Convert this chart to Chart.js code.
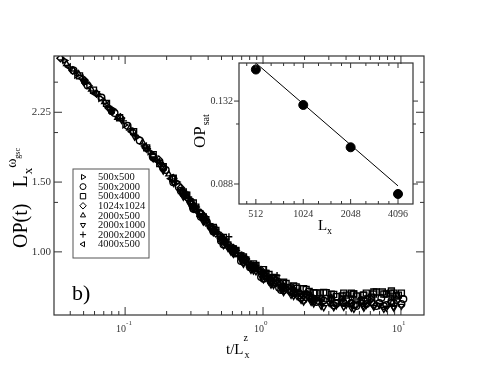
<!DOCTYPE html>
<html>
<head>
<meta charset="utf-8">
<script src="https://cdn.jsdelivr.net/npm/chart.js@4.4.1/dist/chart.umd.min.js"></script>
<style>
    html, body { margin: 0; padding: 0; background: #fff; }
    #wrap { position: relative; width: 491px; height: 382px; }
    canvas { position: absolute; left: 0; top: 0; }
</style>
</head>
<body>
<div id="wrap">
    <canvas id="mainChart" width="491" height="382"></canvas>
    <canvas id="insetChart" width="491" height="382"></canvas>
</div>
<script>
// --- Daten ---

const seriesLabels = ["500x500", "500x2000", "500x4000", "1024x1024", "2000x500", "2000x1000", "2000x2000", "4000x500"];

const s500x500X = [0.0364, 0.0444, 0.0543, 0.0663, 0.0811, 0.0991, 0.1212, 0.1508, 0.1874, 0.2369, 0.2995, 0.3786, 0.4785, 0.605, 0.778, 1.000, 1.285, 1.652, 2.234, 3.123,
    0.2754, 0.3256, 0.385, 0.455, 0.538, 0.636, 0.752, 0.889, 1.051, 1.243, 1.470, 1.738, 2.054, 2.641, 3.69, 5.16];
const s500x500Y = [3.04, 2.79, 2.63, 2.44, 2.29, 2.09, 1.95, 1.79, 1.63, 1.50, 1.331, 1.199, 1.104, 1.013, 0.934, 0.888, 0.834, 0.807, 0.765, 0.756,
    1.382, 1.297, 1.191, 1.126, 1.041, 1.009, 0.943, 0.913, 0.862, 0.855, 0.809, 0.779, 0.781, 0.752, 0.765, 0.747];

const s500x2000X = [0.0423, 0.0535, 0.0674, 0.0839, 0.1042, 0.1275, 0.1585, 0.1971, 0.245, 0.3097, 0.3915, 0.495, 0.626, 0.804, 1.017, 1.307, 1.680, 2.089, 2.513, 3.123, 3.816, 4.673, 5.706, 6.98, 8.53, 10.42,
    0.2533, 0.2995, 0.354, 0.4185, 0.495, 0.585, 0.692, 0.818, 0.967, 1.143, 1.352, 1.598, 1.889, 2.234, 2.43, 2.87, 3.40, 4.01, 4.37, 4.75, 5.16, 5.61, 6.10, 6.63, 7.21, 7.84, 8.53, 9.27, 10.08,
    0.1599, 0.1890, 0.2234, 0.2641, 0.3123, 0.3692, 0.4364, 0.5162, 0.610, 0.7216, 0.853, 1.008, 1.192, 1.410, 1.666, 1.970, 2.330, 2.754, 3.257, 3.848, 4.557, 5.381, 6.361, 7.519, 8.895];
const s500x2000Y = [2.87, 2.63, 2.45, 2.24, 2.08, 1.91, 1.74, 1.61, 1.457, 1.297, 1.190, 1.078, 0.991, 0.914, 0.869, 0.812, 0.791, 0.780, 0.753, 0.764, 0.747, 0.738, 0.760, 0.743, 0.752, 0.760,
    1.427, 1.339, 1.226, 1.157, 1.066, 1.018, 0.949, 0.916, 0.864, 0.840, 0.801, 0.792, 0.765, 0.765, 0.747, 0.762, 0.740, 0.760, 0.743, 0.730, 0.756, 0.739, 0.747, 0.730, 0.765, 0.734, 0.743, 0.756, 0.739,
    1.730, 1.630, 1.499, 1.401, 1.284, 1.219, 1.125, 1.044, 1.004, 0.943, 0.906, 0.856, 0.832, 0.800, 0.787, 0.757, 0.753, 0.754, 0.733, 0.743, 0.734, 0.752, 0.739, 0.730, 0.743];

const s500x4000X = [0.0467, 0.0590, 0.0733, 0.0912, 0.1153, 0.1434, 0.1782, 0.2215, 0.280, 0.3481, 0.440, 0.556, 0.692, 0.874, 1.105, 1.398, 1.767, 2.160, 2.597, 3.123, 3.752, 4.519, 5.34, 6.308, 7.332, 8.388, 9.585,
    0.2754, 0.3256, 0.385, 0.455, 0.538, 0.636, 0.752, 0.889, 1.051, 1.243, 1.470, 1.738, 2.054, 2.43, 2.87, 3.40, 4.01, 4.37, 4.75, 5.61, 6.10, 6.63, 7.84, 8.53, 9.27, 10.08,
    0.1599, 0.1890, 0.2234, 0.2641, 0.3123, 0.3692, 0.4364, 0.5162, 0.610, 0.7216, 0.853, 1.008, 1.192, 1.410, 1.666, 1.970, 2.330, 2.754, 3.257, 3.848, 4.557, 5.381, 6.361, 7.519, 8.895];
const s500x4000Y = [2.78, 2.56, 2.37, 2.18, 2.01, 1.83, 1.67, 1.53, 1.39, 1.249, 1.141, 1.041, 0.977, 0.922, 0.877, 0.835, 0.809, 0.795, 0.788, 0.782, 0.774, 0.783, 0.778, 0.783, 0.792, 0.787, 0.778,
    1.39, 1.297, 1.205, 1.133, 1.059, 1.009, 0.954, 0.924, 0.882, 0.860, 0.832, 0.816, 0.804, 0.787, 0.789, 0.771, 0.778, 0.787, 0.774, 0.787, 0.769, 0.792, 0.783, 0.797, 0.774, 0.787,
    1.760, 1.640, 1.534, 1.417, 1.329, 1.226, 1.152, 1.088, 1.016, 0.971, 0.933, 0.902, 0.862, 0.839, 0.820, 0.807, 0.789, 0.790, 0.781, 0.787, 0.783, 0.778, 0.792, 0.783, 0.787];

const s1024x1024X = [0.0340, 0.0416, 0.0508, 0.0620, 0.0758, 0.0927, 0.1133, 0.1410, 0.1753, 0.2215, 0.280, 0.354, 0.455, 0.585, 0.752, 0.967, 1.243, 1.598, 2.054, 2.641, 3.69, 5.16,
    0.2533, 0.2995, 0.354, 0.4185, 0.495, 0.585, 0.692, 0.818, 0.967, 1.143, 1.352, 1.598, 1.889, 2.234, 3.123, 4.37, 6.10, 8.53,
    0.1599, 0.1890, 0.2234, 0.2641, 0.3123, 0.3692, 0.4364, 0.5162, 0.610, 0.7216, 0.853, 1.008, 1.192, 1.410, 1.666, 1.970];
const s1024x1024Y = [3.08, 2.87, 2.71, 2.51, 2.31, 2.18, 2.01, 1.83, 1.71, 1.53, 1.37, 1.255, 1.113, 1.030, 0.960, 0.890, 0.845, 0.797, 0.786, 0.761, 0.756, 0.747,
    1.452, 1.331, 1.248, 1.150, 1.097, 1.018, 0.977, 0.927, 0.900, 0.850, 0.830, 0.815, 0.783, 0.761, 0.760, 0.743, 0.760, 0.747,
    1.75, 1.63, 1.534, 1.417, 1.306, 1.233, 1.132, 1.075, 1.022, 0.959, 0.922, 0.876, 0.857, 0.819, 0.801, 0.775];

const s2000x500X = [0.0376, 0.0460, 0.0570, 0.0709, 0.0882, 0.1078, 0.1341, 0.1667, 0.2071, 0.2576, 0.3203, 0.4047, 0.512, 0.647, 0.832, 1.069, 1.375, 1.828, 2.43,
    0.2754, 0.3256, 0.385, 0.455, 0.538, 0.636, 0.752, 0.889, 1.051, 1.243, 1.470, 1.738, 2.234, 3.123, 4.37];
const s2000x500Y = [2.98, 2.81, 2.57, 2.39, 2.18, 2.05, 1.89, 1.71, 1.57, 1.416, 1.30, 1.173, 1.084, 0.986, 0.923, 0.879, 0.818, 0.791, 0.760,
    1.398, 1.275, 1.212, 1.119, 1.065, 0.986, 0.960, 0.902, 0.877, 0.830, 0.813, 0.788, 0.770, 0.742, 0.747];

const s2000x1000X = [0.0402, 0.0500, 0.0620, 0.0771, 0.0943, 0.1172, 0.1434, 0.1782, 0.2253, 0.2848, 0.354, 0.440, 0.556, 0.704, 0.889, 1.105, 1.398, 1.767, 2.310, 3.018, 4.01, 5.34, 6.98, 8.82,
    0.2533, 0.2995, 0.354, 0.4185, 0.495, 0.585, 0.692, 0.818, 0.967, 1.143, 1.352, 1.598, 1.889, 2.234, 2.641, 3.40, 4.37, 5.61, 7.84, 10.08,
    0.1599, 0.1890, 0.2234, 0.2641, 0.3123, 0.3692, 0.4364, 0.5162, 0.610, 0.7216, 0.853, 1.008, 1.192, 1.410, 1.666, 1.970, 2.330, 2.754, 3.257, 3.848, 4.557, 5.381, 6.361, 7.519, 8.895];
const s2000x1000Y = [2.90, 2.68, 2.51, 2.29, 2.15, 1.95, 1.82, 1.66, 1.49, 1.354, 1.226, 1.128, 1.023, 0.955, 0.892, 0.842, 0.806, 0.772, 0.750, 0.743, 0.734, 0.730, 0.734, 0.726,
    1.419, 1.308, 1.234, 1.137, 1.072, 1.000, 0.954, 0.900, 0.869, 0.826, 0.806, 0.778, 0.756, 0.747, 0.730, 0.732, 0.722, 0.734, 0.722, 0.730,
    1.720, 1.602, 1.499, 1.376, 1.284, 1.191, 1.119, 1.038, 0.987, 0.932, 0.896, 0.851, 0.823, 0.791, 0.773, 0.748, 0.740, 0.724, 0.724, 0.726, 0.717, 0.722, 0.726, 0.717, 0.722];

const s2000x2000X = [0.0352, 0.0430, 0.0526, 0.0641, 0.0797, 0.0975, 0.1192, 0.1458, 0.1812, 0.2291, 0.2896, 0.366, 0.4627, 0.566, 0.716, 0.904, 1.143, 1.264, 1.598, 2.054,
    0.2754, 0.3256, 0.385, 0.455, 0.538, 0.636, 0.752, 0.889, 1.051, 1.470, 1.738, 2.234, 3.123];
const s2000x2000Y = [3.05, 2.86, 2.68, 2.47, 2.29, 2.14, 1.96, 1.82, 1.68, 1.51, 1.376, 1.23, 1.125, 1.092, 0.979, 0.914, 0.860, 0.872, 0.811, 0.790,
    1.39, 1.305, 1.205, 1.139, 1.065, 1.021, 0.954, 0.924, 0.898, 0.828, 0.797, 0.778, 0.769];

const s4000x500X = [0.0389, 0.0483, 0.0600, 0.0746, 0.0897, 0.1115, 0.1387, 0.1724, 0.2142, 0.2708, 0.3367, 0.4256, 0.538, 0.6805, 0.874, 1.124, 1.446, 1.889,
    0.2533, 0.2995, 0.354, 0.4185, 0.495, 0.585, 0.692, 0.818, 0.967, 1.143, 1.352, 1.598, 2.234, 3.69];
const s4000x500Y = [2.93, 2.74, 2.51, 2.36, 2.19, 2.01, 1.85, 1.69, 1.53, 1.40, 1.258, 1.149, 1.047, 0.982, 0.906, 0.858, 0.810, 0.779,
    1.427, 1.331, 1.226, 1.157, 1.078, 1.012, 0.971, 0.916, 0.885, 0.840, 0.816, 0.787, 0.756, 0.743];

// gefuellte Punkte ohne Legende
const filledX = [0.0508, 0.0797];
const filledY = [2.69, 2.26];

// Inset
const insetL = [512, 1024, 2048, 4096];
const insetOP = [0.154, 0.1295, 0.1053, 0.0838];
const fitL = [512, 4096];
const fitOP = [0.159, 0.0872];

// Achsen
const mainXTicks = [0.1, 1, 10];
const mainXExp = ["-1", "0", "1"];
const mainYTicks = [1.00, 1.50, 2.25];
const mainYMinor = [1.333, 2.0, 2.68];
const insetXTicks = [512, 1024, 2048, 4096];
const insetYTicks = [0.088, 0.132];
const insetYMinor = [0.118];

// --- Hilfsfunktionen ---

const SERIF = "'Liberation Serif', 'DejaVu Serif', serif";

function toPoints(xs, ys) {
    return xs.map((x, i) => ({ x: x, y: ys[i] }));
}

function seg(ctx, x1, y1, x2, y2) {
    ctx.beginPath();
    ctx.moveTo(x1, y1);
    ctx.lineTo(x2, y2);
    ctx.stroke();
}

const markerStyles = [
    { pointStyle: "triangle", rotation: 90 },
    { pointStyle: "circle", rotation: 0 },
    { pointStyle: "rect", rotation: 0 },
    { pointStyle: "rectRot", rotation: 0 },
    { pointStyle: "triangle", rotation: 0 },
    { pointStyle: "triangle", rotation: 180 },
    { pointStyle: "cross", rotation: 0 },
    { pointStyle: "triangle", rotation: 270 }
];

const seriesX = [s500x500X, s500x2000X, s500x4000X, s1024x1024X, s2000x500X, s2000x1000X, s2000x2000X, s4000x500X];
const seriesY = [s500x500Y, s500x2000Y, s500x4000Y, s1024x1024Y, s2000x500Y, s2000x1000Y, s2000x2000Y, s4000x500Y];

function markerRadius(style) {
    if (style === "rect") return 4.2;
    if (style === "rectRot") return 3.6;
    if (style === "cross") return 3.4;
    return 3.3;
}

const datasets = seriesLabels.map((label, i) => ({
    label: label,
    data: toPoints(seriesX[i], seriesY[i]),
    pointStyle: markerStyles[i].pointStyle,
    rotation: markerStyles[i].rotation,
    radius: markerRadius(markerStyles[i].pointStyle),
    borderColor: "#000",
    backgroundColor: "rgba(0,0,0,0)",
    borderWidth: 1.4
}));

datasets.push({
    label: "filled",
    data: toPoints(filledX, filledY),
    pointStyle: "circle",
    radius: 3.3,
    borderColor: "#000",
    backgroundColor: "#000",
    borderWidth: 1
});

// --- Rahmen, Ticks, Beschriftungen Hauptplot ---

const mainDecor = {
    id: "mainDecor",
    afterDraw(chart) {
        const { ctx, chartArea: a, scales } = chart;
        const x = scales.x, y = scales.y;
        ctx.save();
        ctx.strokeStyle = "#333";
        ctx.lineWidth = 1.2;
        ctx.strokeRect(a.left, a.top, a.right - a.left, a.bottom - a.top);
        ctx.lineWidth = 1;

        // x-Ticks (log)
        for (let d = -2; d <= 1; d++) {
            for (let k = 1; k <= 9; k++) {
                const v = k * Math.pow(10, d);
                if (v < x.min || v > x.max) continue;
                const p = x.getPixelForValue(v);
                const len = k === 1 ? 8 : 4;
                seg(ctx, p, a.bottom, p, a.bottom - len);
                seg(ctx, p, a.top, p, a.top + len);
            }
        }
        // y-Ticks
        mainYTicks.forEach(v => {
            const p = y.getPixelForValue(v);
            seg(ctx, a.left, p, a.left + 8, p);
            seg(ctx, a.right, p, a.right - 8, p);
        });
        mainYMinor.forEach(v => {
            const p = y.getPixelForValue(v);
            seg(ctx, a.left, p, a.left + 4, p);
            seg(ctx, a.right, p, a.right - 4, p);
        });

        // y-Tickbeschriftung
        ctx.fillStyle = "#333";
        ctx.font = "11px " + SERIF;
        ctx.textAlign = "right";
        ctx.textBaseline = "middle";
        mainYTicks.forEach(v => {
            ctx.fillText(v.toFixed(2), a.left - 3, y.getPixelForValue(v));
        });

        // x-Tickbeschriftung 10^n
        ctx.textBaseline = "alphabetic";
        mainXTicks.forEach((v, i) => {
            const p = x.getPixelForValue(v);
            ctx.font = "10px " + SERIF;
            ctx.textAlign = "right";
            ctx.fillText("10", p + 1, 332);
            ctx.font = "7px " + SERIF;
            ctx.textAlign = "left";
            ctx.fillText(mainXExp[i], p + 1, 325);
        });

        // x-Achsentitel t/L_x^z
        ctx.fillStyle = "#000";
        ctx.textAlign = "left";
        ctx.font = "15px " + SERIF;
        ctx.fillText("t/L", 226, 354);
        const wT = ctx.measureText("t/L").width;
        ctx.font = "10px " + SERIF;
        ctx.fillText("x", 226 + wT + 1, 358);
        ctx.fillText("z", 226 + wT, 341);

        // y-Achsentitel OP(t) L_x^(omega_gsc)
        ctx.save();
        ctx.translate(27, 248);
        ctx.rotate(-Math.PI / 2);
        ctx.font = "20px " + SERIF;
        ctx.fillText("OP(t)", 0, 0);
        let u = ctx.measureText("OP(t)").width + 16;
        ctx.fillText("L", u, 0);
        u += ctx.measureText("L").width;
        ctx.font = "13px " + SERIF;
        ctx.fillText("x", u + 1, 5);
        u += 1 + ctx.measureText("x").width;
        ctx.font = "14px " + SERIF;
        ctx.fillText("\u03c9", u, -11);
        u += ctx.measureText("\u03c9").width;
        ctx.font = "8px " + SERIF;
        ctx.fillText("gsc", u, -7);
        ctx.restore();

        // b)
        ctx.font = "22px " + SERIF;
        ctx.fillText("b)", 72, 300);

        // Legende
        const lx = 73, ly = 169, lw = 76, lh = 89;
        ctx.fillStyle = "#fff";
        ctx.fillRect(lx, ly, lw, lh);
        ctx.strokeStyle = "#555";
        ctx.lineWidth = 1;
        ctx.strokeRect(lx, ly, lw, lh);
        ctx.font = "10.5px " + SERIF;
        ctx.textBaseline = "middle";
        seriesLabels.forEach((label, i) => {
            const ry = 177 + i * 9.6;
            ctx.strokeStyle = "#000";
            ctx.fillStyle = "rgba(0,0,0,0)";
            const st = markerStyles[i];
            Chart.helpers.drawPoint(ctx, {
                pointStyle: st.pointStyle,
                rotation: st.rotation,
                radius: markerRadius(st.pointStyle) * 0.9,
                borderWidth: 1
            }, 83, ry);
            ctx.fillStyle = "#111";
            ctx.fillText(label, 98, ry + 0.5);
        });
        ctx.restore();
    }
};

new Chart(document.getElementById("mainChart"), {
    type: "scatter",
    data: { datasets: datasets },
    options: {
        responsive: false,
        animation: false,
        layout: { padding: { left: 0, top: 56, right: 67, bottom: 27 } },
        plugins: { legend: { display: false }, tooltip: { enabled: false } },
        scales: {
            x: {
                type: "logarithmic",
                min: 0.0305,
                max: 14.7,
                grid: { display: false, drawTicks: false },
                border: { display: false },
                ticks: { display: false },
                afterFit: s => { s.height = 40; }
            },
            y: {
                type: "logarithmic",
                min: 0.693,
                max: 3.12,
                grid: { display: false, drawTicks: false },
                border: { display: false },
                afterBuildTicks: s => { s.ticks = mainYTicks.map(v => ({ value: v })); },
                ticks: { display: false },
                afterFit: s => { s.width = 54; }
            }
        }
    },
    plugins: [mainDecor]
});

// --- Inset ---

const insetDecor = {
    id: "insetDecor",
    afterDraw(chart) {
        const { ctx, chartArea: a, scales } = chart;
        const x = scales.x, y = scales.y;
        ctx.save();
        ctx.strokeStyle = "#333";
        ctx.lineWidth = 1.2;
        ctx.strokeRect(a.left, a.top, a.right - a.left, a.bottom - a.top);
        ctx.lineWidth = 1;

        insetXTicks.forEach(v => {
            const p = x.getPixelForValue(v);
            seg(ctx, p, a.bottom, p, a.bottom - 5);
            seg(ctx, p, a.top, p, a.top + 5);
            for (let k = 1; k <= 3; k++) {
                const m = v * (1 + k / 4);
                if (m > x.max) continue;
                const q = x.getPixelForValue(m);
                seg(ctx, q, a.bottom, q, a.bottom - 3);
                seg(ctx, q, a.top, q, a.top + 3);
            }
        });
        const m0 = x.getPixelForValue(448);
        seg(ctx, m0, a.bottom, m0, a.bottom - 3);
        seg(ctx, m0, a.top, m0, a.top + 3);

        insetYTicks.forEach(v => {
            const p = y.getPixelForValue(v);
            seg(ctx, a.left - 5, p, a.left, p);
            seg(ctx, a.right, p, a.right + 5, p);
        });
        insetYMinor.forEach(v => {
            const p = y.getPixelForValue(v);
            seg(ctx, a.left - 3, p, a.left, p);
            seg(ctx, a.right, p, a.right + 3, p);
        });

        ctx.fillStyle = "#000";
        ctx.textAlign = "left";
        ctx.textBaseline = "alphabetic";
        ctx.font = "15px " + SERIF;
        ctx.fillText("L", 318, 230);
        ctx.font = "10px " + SERIF;
        ctx.fillText("x", 327, 234);

        ctx.save();
        ctx.translate(205, 148);
        ctx.rotate(-Math.PI / 2);
        ctx.font = "17px " + SERIF;
        ctx.fillText("OP", 0, 0);
        const wOP = ctx.measureText("OP").width;
        ctx.font = "10px " + SERIF;
        ctx.fillText("sat", wOP + 1, 4);
        ctx.restore();
        ctx.restore();
    }
};

new Chart(document.getElementById("insetChart"), {
    type: "scatter",
    data: {
        datasets: [
            {
                label: "fit",
                data: toPoints(fitL, fitOP),
                showLine: true,
                borderColor: "#000",
                borderWidth: 1,
                pointRadius: 0
            },
            {
                label: "OPsat",
                data: toPoints(insetL, insetOP),
                pointStyle: "circle",
                radius: 4.5,
                backgroundColor: "#000",
                borderColor: "#000"
            }
        ]
    },
    options: {
        responsive: false,
        animation: false,
        layout: { padding: { left: 194, top: 63, right: 78, bottom: 148 } },
        plugins: { legend: { display: false }, tooltip: { enabled: false } },
        scales: {
            x: {
                type: "logarithmic",
                min: 400,
                max: 5100,
                grid: { display: false, drawTicks: false },
                border: { display: false },
                afterBuildTicks: s => { s.ticks = insetXTicks.map(v => ({ value: v })); },
                ticks: {
                    padding: 4,
                    color: "#333",
                    maxRotation: 0,
                    autoSkip: false,
                    font: { family: SERIF, size: 10 },
                    callback: v => String(v)
                },
                afterFit: s => { s.height = 30; }
            },
            y: {
                type: "logarithmic",
                min: 0.0798,
                max: 0.159,
                grid: { display: false, drawTicks: false },
                border: { display: false },
                afterBuildTicks: s => { s.ticks = insetYTicks.map(v => ({ value: v })); },
                ticks: {
                    padding: 6,
                    color: "#333",
                    font: { family: SERIF, size: 10 },
                    callback: v => Number(v).toFixed(3)
                },
                afterFit: s => { s.width = 45; }
            }
        }
    },
    plugins: [insetDecor]
});
</script>
</body>
</html>
